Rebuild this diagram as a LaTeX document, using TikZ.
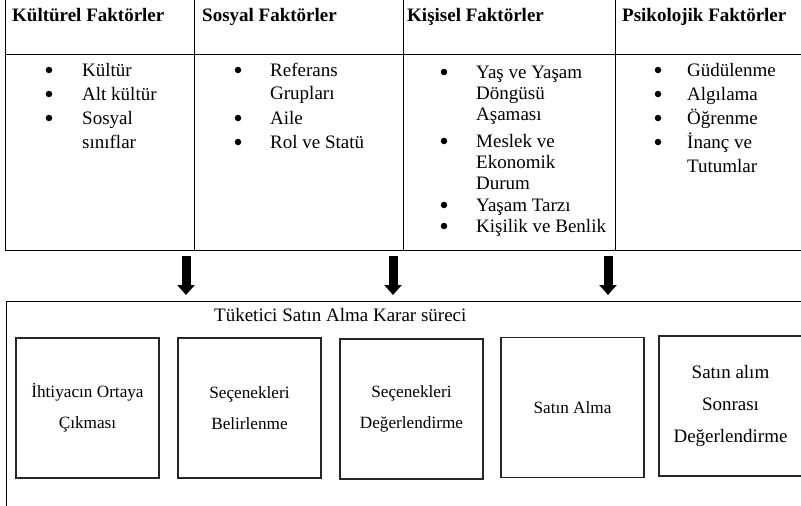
\documentclass[tikz,border=0pt]{standalone}
\usepackage{fontspec}
\setmainfont{Liberation Serif}
\usetikzlibrary{positioning,arrows.meta}

\tikzset{
  head/.style={anchor=base west, inner sep=0pt, font=\bfseries\fontsize{19}{22}\selectfont},
  item/.style={anchor=base west, inner sep=0pt, font=\fontsize{19}{22}\selectfont},
  dot/.style={circle, fill, inner sep=0pt, minimum size=6.5pt},
  stage/.style={draw=black!85, line width=1.2pt, minimum width=143pt, minimum height=140pt,
    align=center, inner sep=0pt, font=\fontsize{17.2}{31}\selectfont},
  down/.style={line width=9pt, -{Triangle[width=17pt,length=10pt]}}
}

\begin{document}
\begin{tikzpicture}[x=1pt,y=-1pt]
		\useasboundingbox (0,0) rectangle (801,506);
		% factor table
		\foreach \x in {5,194,403,615}
		\draw[line width=1pt] (\x,0) -- (\x,250);
		\draw[line width=1pt] (5,54) -- (810,54);
		\draw[line width=1pt] (5,250) -- (810,250);
		\node[head] (kul) at (12,21) {Kültürel Faktörler};
		\node[head] (sos) at (202,21) {Sosyal Faktörler};
		\node[head] (kis) at (407,21) {Kişisel Faktörler};
		\node[head] (psi) at (622,21) {Psikolojik Faktörler};
		% items
		\foreach \t/\y [count=\i] in {Kültür/76,Alt kültür/100,Sosyal/124,sınıflar/148}
		\node[item] (kul\i) at (82,\y) {\t};
		\foreach \y [count=\i] in {76,100,124}
		\node[dot] (kulb\i) at (49,\y-6) {};
		\foreach \t/\y [count=\i] in {Referans/76,Grupları/99,Aile/124,Rol ve Statü/148}
		\node[item] (sos\i) at (270,\y) {\t};
		\foreach \y [count=\i] in {76,124,148}
		\node[dot] (sosb\i) at (238,\y-6) {};
		\foreach \t/\y [count=\i] in {Yaş ve Yaşam/78,Döngüsü/99,Aşaması/120,Meslek ve/147,Ekonomik/168,Durum/189,Yaşam Tarzı/211,Kişilik ve Benlik/232}
		\node[item] (kis\i) at (476,\y) {\t};
		\foreach \y [count=\i] in {78,147,211,232}
		\node[dot] (kisb\i) at (444,\y-6) {};
		\foreach \t/\y [count=\i] in {Güdülenme/76,Algılama/100,Öğrenme/124,İnanç ve/148,Tutumlar/172}
		\node[item] (psi\i) at (687,\y) {\t};
		\foreach \y [count=\i] in {76,100,124,148}
		\node[dot] (psib\i) at (658,\y-6) {};
		% arrows
		\foreach \x [count=\i] in {186,393,608} {
			\coordinate (from\i) at (\x,256);
			\coordinate (to\i) at (\x,295);
			\draw[down] (from\i) -- (to\i);
		}
		% decision process
		\draw[line width=1pt] (810,301) -- (6,301) -- (6,510);
		\node[item] (title) at (214,321) {Tüketici Satın Alma Karar süreci};
		\node[stage] (ihtiyac) at (87.5,408) {İhtiyacın Ortaya\\Çıkması};
		\node[stage] (belirle) at (249.5,408) {Seçenekleri\\Belirlenme};
		\node[stage] (deger) at (411.5,409) {Seçenekleri\\Değerlendirme};
		\node[stage] (satin) at (572.5,407.5) {Satın Alma};
		\node[stage, font=\fontsize{19}{32}\selectfont] (sonra) at (730.5,406) {Satın alım\\Sonrası\\Değerlendirme};
	\end{tikzpicture}
\end{document}
